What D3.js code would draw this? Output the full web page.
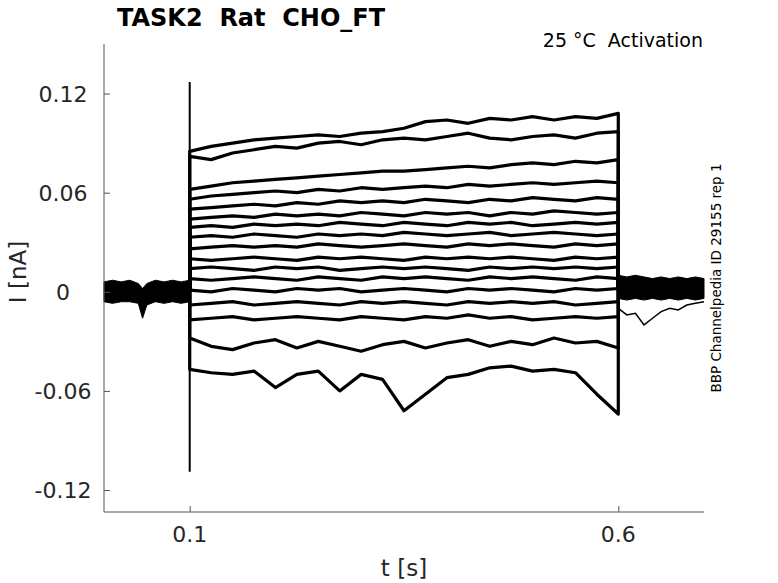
<!DOCTYPE html>
<html>
<head>
<meta charset="utf-8">
<script src="https://cdn.jsdelivr.net/npm/d3@7"></script>
<style>
  body { margin: 0; background: #fff; }
  svg { display: block; font-family: "DejaVu Sans", sans-serif; }
  text { white-space: pre; }
</style>
</head>
<body>
<svg id="trace_plot" width="778" height="583"></svg>
<script>
// Recorded current traces (nA) against time (s)
const xTicks = [0.1, 0.6];
const yTicks = [0.12, 0.06, 0, -0.06, -0.12];
const yTickLabels = ['0.12', '0.06', '0', '-0.06', '-0.12'];

// sample times during the voltage step
const pulseT = [0.1, 0.125, 0.15, 0.175, 0.2, 0.225, 0.25, 0.275, 0.3, 0.325, 0.35,
                0.375, 0.4, 0.425, 0.45, 0.475, 0.5, 0.525, 0.55, 0.575, 0.6];

// one array per sweep
const sweep01 = [0.085, 0.088, 0.090, 0.092, 0.093, 0.094, 0.095, 0.094, 0.096, 0.097, 0.099, 0.103, 0.104, 0.102, 0.105, 0.104, 0.106, 0.104, 0.106, 0.105, 0.108];
const sweep02 = [0.082, 0.080, 0.084, 0.086, 0.088, 0.087, 0.090, 0.091, 0.089, 0.092, 0.093, 0.092, 0.094, 0.096, 0.093, 0.092, 0.094, 0.095, 0.093, 0.096, 0.097];
const sweep03 = [0.062, 0.064, 0.066, 0.067, 0.068, 0.069, 0.070, 0.071, 0.072, 0.073, 0.073, 0.074, 0.075, 0.076, 0.075, 0.077, 0.078, 0.077, 0.079, 0.078, 0.080];
const sweep04 = [0.056, 0.058, 0.059, 0.060, 0.061, 0.060, 0.062, 0.061, 0.063, 0.062, 0.063, 0.064, 0.063, 0.065, 0.064, 0.065, 0.066, 0.065, 0.066, 0.067, 0.066];
const sweep05 = [0.050, 0.051, 0.052, 0.053, 0.052, 0.054, 0.053, 0.055, 0.054, 0.055, 0.054, 0.056, 0.055, 0.054, 0.056, 0.055, 0.057, 0.056, 0.055, 0.057, 0.056];
const sweep06 = [0.044, 0.045, 0.046, 0.045, 0.047, 0.046, 0.047, 0.046, 0.048, 0.047, 0.046, 0.048, 0.047, 0.048, 0.046, 0.048, 0.047, 0.049, 0.048, 0.047, 0.048];
const sweep07 = [0.039, 0.040, 0.039, 0.041, 0.040, 0.041, 0.040, 0.042, 0.041, 0.040, 0.042, 0.041, 0.040, 0.042, 0.041, 0.042, 0.040, 0.041, 0.042, 0.041, 0.042];
const sweep08 = [0.033, 0.034, 0.033, 0.035, 0.034, 0.033, 0.035, 0.034, 0.035, 0.034, 0.036, 0.035, 0.034, 0.035, 0.036, 0.034, 0.035, 0.036, 0.035, 0.034, 0.035];
const sweep09 = [0.026, 0.027, 0.028, 0.027, 0.028, 0.027, 0.029, 0.028, 0.027, 0.028, 0.029, 0.028, 0.027, 0.029, 0.028, 0.029, 0.028, 0.027, 0.029, 0.028, 0.029];
const sweep10 = [0.020, 0.019, 0.020, 0.021, 0.020, 0.019, 0.021, 0.020, 0.021, 0.020, 0.019, 0.021, 0.020, 0.021, 0.020, 0.021, 0.020, 0.019, 0.021, 0.020, 0.021];
const sweep11 = [0.014, 0.015, 0.014, 0.013, 0.015, 0.014, 0.015, 0.013, 0.014, 0.015, 0.014, 0.015, 0.014, 0.013, 0.015, 0.014, 0.015, 0.014, 0.015, 0.014, 0.015];
const sweep12 = [0.008, 0.007, 0.008, 0.009, 0.008, 0.007, 0.009, 0.008, 0.007, 0.009, 0.008, 0.009, 0.008, 0.007, 0.009, 0.008, 0.009, 0.008, 0.007, 0.009, 0.008];
const sweep13 = [0.001, 0.000, 0.002, 0.001, 0.000, 0.002, 0.001, 0.002, 0.000, 0.001, 0.002, 0.001, 0.000, 0.002, 0.001, 0.002, 0.001, 0.000, 0.002, 0.001, 0.002];
const sweep14 = [-0.008, -0.007, -0.006, -0.008, -0.007, -0.006, -0.007, -0.008, -0.006, -0.007, -0.006, -0.007, -0.008, -0.006, -0.007, -0.006, -0.007, -0.006, -0.008, -0.007, -0.006];
const sweep15 = [-0.017, -0.016, -0.015, -0.017, -0.016, -0.015, -0.016, -0.017, -0.015, -0.016, -0.017, -0.015, -0.016, -0.014, -0.016, -0.015, -0.017, -0.016, -0.015, -0.016, -0.015];
const sweep16 = [-0.028, -0.033, -0.035, -0.031, -0.029, -0.034, -0.030, -0.033, -0.036, -0.032, -0.030, -0.034, -0.031, -0.029, -0.033, -0.030, -0.032, -0.028, -0.031, -0.030, -0.034];
const sweep17 = [-0.047, -0.049, -0.050, -0.048, -0.058, -0.050, -0.048, -0.060, -0.050, -0.053, -0.072, -0.062, -0.052, -0.050, -0.046, -0.045, -0.048, -0.047, -0.049, -0.062, -0.074];
const sweeps = [sweep01, sweep02, sweep03, sweep04, sweep05, sweep06, sweep07, sweep08, sweep09,
                sweep10, sweep11, sweep12, sweep13, sweep14, sweep15, sweep16, sweep17];

// holding current before and after the step: all sweeps overlap into one band,
// given here as its upper and lower edge
const preT  = [0, 0.01, 0.02, 0.03, 0.04, 0.045, 0.05, 0.06, 0.07, 0.08, 0.09, 0.1];
const preHi = [0.006, 0.007, 0.006, 0.007, 0.005, 0.002, 0.005, 0.007, 0.006, 0.007, 0.006, 0.007];
const preLo = [-0.006, -0.007, -0.006, -0.006, -0.007, -0.016, -0.008, -0.006, -0.007, -0.006, -0.007, -0.006];
const postT  = [0.6, 0.61, 0.62, 0.63, 0.64, 0.65, 0.66, 0.67, 0.68, 0.69, 0.7];
const postHi = [0.010, 0.009, 0.010, 0.009, 0.008, 0.009, 0.008, 0.009, 0.008, 0.009, 0.008];
const postLo = [-0.004, -0.005, -0.004, -0.005, -0.004, -0.005, -0.004, -0.005, -0.004, -0.005, -0.004];
// slowest tail current after the step
const tailT = [0.6, 0.61, 0.62, 0.63, 0.64, 0.65, 0.66, 0.67, 0.68, 0.69, 0.7];
const tailI = [-0.010, -0.014, -0.013, -0.020, -0.016, -0.012, -0.010, -0.011, -0.008, -0.007, -0.006];

// capacitive transient at step onset
const onsetT = 0.1;
const onsetPeak = [-0.109, 0.127];

const svg = d3.select('#trace_plot');
const margin = { top: 44, left: 104, right: 74, bottom: 71 };
const W = +svg.attr('width'), H = +svg.attr('height');

const xScale = d3.scaleLinear().domain([0, 0.7]).range([margin.left, W - margin.right]);
const yScale = d3.scaleLinear().domain([-0.1333, 0.15]).range([H - margin.bottom, margin.top]);

const line = d3.line().x(d => xScale(d[0])).y(d => yScale(d[1]));
const band = d3.area().x(d => xScale(d[0])).y0(d => yScale(d[1])).y1(d => yScale(d[2]));

const plot = svg.append('g');

// holding-current bands
plot.append('path')
    .datum(preT.map((t, i) => [t, preLo[i], preHi[i]]))
    .attr('d', band)
    .attr('fill', '#000').attr('stroke', '#000').attr('stroke-width', 1);

plot.append('path')
    .datum(postT.map((t, i) => [t, postLo[i], postHi[i]]))
    .attr('d', band)
    .attr('fill', '#000').attr('stroke', '#000').attr('stroke-width', 1);

plot.append('path')
    .datum(tailT.map((t, i) => [t, tailI[i]]))
    .attr('d', line)
    .attr('fill', 'none').attr('stroke', '#000').attr('stroke-width', 1.5);

// each sweep: step on, step, step off
sweeps.forEach(s => {
    const pts = [[pulseT[0], 0]].concat(pulseT.map((t, i) => [t, s[i]]), [[0.6, 0.002]]);
    plot.append('path')
        .datum(pts)
        .attr('d', line)
        .attr('fill', 'none')
        .attr('stroke', '#000')
        .attr('stroke-width', 3.2)
        .attr('stroke-linejoin', 'round');
});

plot.append('path')
    .datum(onsetPeak.map(v => [onsetT, v]))
    .attr('d', line)
    .attr('stroke', '#000').attr('stroke-width', 2);

// axes, MATLAB style: ticks inward, left and bottom only
const axisColor = '#555';
const textColor = '#262626';

const yAxis = svg.append('g')
    .attr('transform', `translate(${margin.left},0)`)
    .call(d3.axisRight(yScale).tickValues(yTicks).tickSize(6).tickFormat(''));
yAxis.select('.domain').attr('d', `M0,${yScale.range()[1]}V${yScale.range()[0]}`);

const xAxis = svg.append('g')
    .attr('transform', `translate(0,${H - margin.bottom})`)
    .call(d3.axisTop(xScale).tickValues(xTicks).tickSize(6).tickFormat(''));
xAxis.select('.domain').attr('d', `M${xScale.range()[0]},0H${xScale.range()[1]}`);

svg.selectAll('.domain, .tick line').attr('stroke', axisColor).attr('stroke-width', 1);

svg.append('g').selectAll('text')
    .data(yTicks).join('text')
    .attr('x', 63).attr('y', d => yScale(d) + 8)
    .attr('text-anchor', 'middle')
    .attr('font-size', 22).attr('fill', textColor)
    .text((d, i) => yTickLabels[i]);

svg.append('g').selectAll('text')
    .data(xTicks).join('text')
    .attr('x', d => xScale(d)).attr('y', 542)
    .attr('text-anchor', 'middle')
    .attr('font-size', 22).attr('fill', textColor)
    .text(d => d);

// labels
svg.append('text')
    .attr('x', 404).attr('y', 576)
    .attr('text-anchor', 'middle').attr('font-size', 23).attr('fill', textColor)
    .text('t [s]');

svg.append('text')
    .attr('transform', 'translate(26,272) rotate(-90)')
    .attr('text-anchor', 'middle').attr('font-size', 23).attr('fill', textColor)
    .text('I [nA]');

svg.append('text')
    .attr('x', 117).attr('y', 26)
    .attr('font-size', 24).attr('font-weight', 'bold').attr('fill', '#000')
    .text('TASK2  Rat  CHO_FT');

svg.append('text')
    .attr('x', 703).attr('y', 47)
    .attr('text-anchor', 'end').attr('font-size', 19).attr('fill', '#000')
    .text('25 °C  Activation');

svg.append('text')
    .attr('transform', 'translate(721,278) rotate(-90)')
    .attr('text-anchor', 'middle').attr('font-size', 13.5).attr('fill', '#000')
    .text('BBP Channelpedia ID 29155 rep 1');
</script>
</body>
</html>
